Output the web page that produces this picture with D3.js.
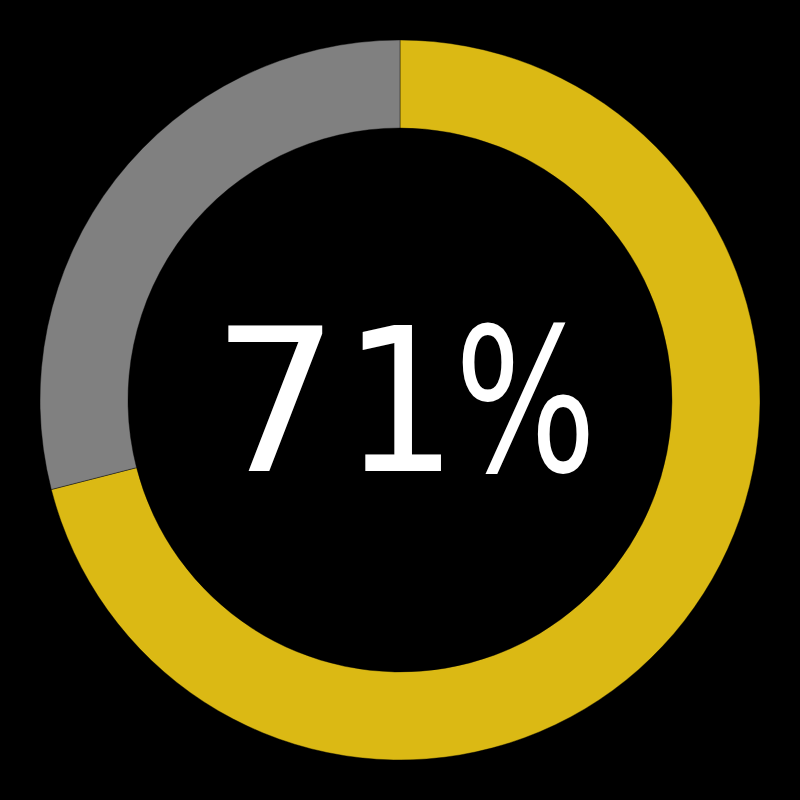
<!DOCTYPE html>
<html><head><meta charset="utf-8">
<script src="https://cdn.jsdelivr.net/npm/d3@7"></script>
<style>html,body{margin:0;padding:0;background:#000;}</style>
</head><body>
<script>
const categories = ["Done", "Remaining"];
const values = [71, 29];
const colors = ["#dbb914", "#808080"];
const labelParts = ["7", "1", "%"];

const W = 800, H = 800;
const svg = d3.select("body").append("svg").attr("width", W).attr("height", H)
  .style("background", "#000");
const g = svg.append("g").attr("transform", `translate(${W/2},${H/2})`);
const pie = d3.pie().sort(null).value(d => d)(values);
const arc = d3.arc().innerRadius(272).outerRadius(360);
g.selectAll("path").data(pie).join("path")
  .attr("d", arc)
  .attr("fill", (d, i) => colors[i])
  .attr("stroke", "#000")
  .attr("stroke-width", 0.4);

// glyph layout (x origin, font-stretch, optional compressed length)
const glyphLayout = [
  {x: 212, stretch: "normal", len: null},
  {x: 343, stretch: "condensed", len: null},
  {x: 454.5, stretch: "condensed", len: 142}
];
const text = svg.append("text")
  .attr("y", 471)
  .attr("fill", "#fff")
  .style("font-family", "DejaVu Sans")
  .style("font-size", "200px");
labelParts.forEach((ch, i) => {
  const L = glyphLayout[i];
  const t = text.append("tspan").attr("x", L.x).style("font-stretch", L.stretch).text(ch);
  if (L.len) t.attr("textLength", L.len).attr("lengthAdjust", "spacingAndGlyphs");
});
</script>
</body></html>
